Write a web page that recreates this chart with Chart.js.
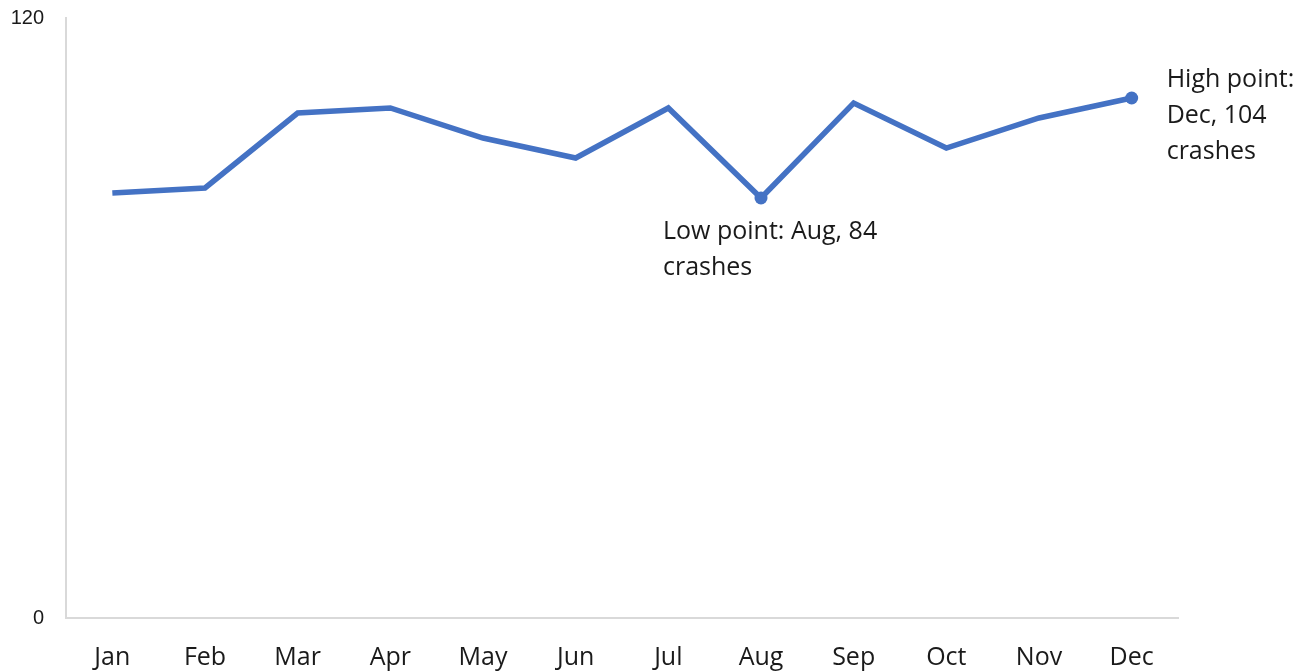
<!DOCTYPE html>
<html>
<head>
<meta charset="utf-8">
<script src="https://cdn.jsdelivr.net/npm/chart.js@4/dist/chart.umd.min.js"></script>
<style>
  html, body { margin: 0; padding: 0; background: #fff; }
  #wrap { width: 1310px; height: 672px; position: relative; }
</style>
</head>
<body>
<div id="wrap"><canvas id="c"></canvas></div>
<script>
const categories = ['Jan','Feb','Mar','Apr','May','Jun','Jul','Aug','Sep','Oct','Nov','Dec'];
const crashes = [85, 86, 101, 102, 96, 92, 102, 84, 103, 94, 100, 104];
const yTicks = [0, 120];
const lowLabel = ['Low point: Aug, 84', 'crashes'];
const highLabel = ['High point:', 'Dec, 104', 'crashes'];
const lowIndex = 7;
const highIndex = 11;

const pointRadii = crashes.map((v, i) => (i === lowIndex || i === highIndex) ? 6.5 : 0);

const annotationPlugin = {
  id: 'notes',
  afterDatasetsDraw(chart) {
    const ctx = chart.ctx;
    const x = chart.scales.x, y = chart.scales.y;
    ctx.save();
    ctx.fillStyle = '#1a1a1a';
    ctx.font = '25px "Open Sans"';
    ctx.textAlign = 'left';
    ctx.textBaseline = 'middle';
    const lh = 36;
    const lx = x.getPixelForValue(lowIndex) - 98;
    const ly = y.getPixelForValue(crashes[lowIndex]) + 34;
    lowLabel.forEach((t, i) => ctx.fillText(t, lx, ly + i * lh));
    const hx = x.getPixelForValue(highIndex) + 35;
    const hy = y.getPixelForValue(crashes[highIndex]) - 18;
    highLabel.forEach((t, i) => ctx.fillText(t, hx, hy + i * lh));
    ctx.restore();
  }
};

new Chart(document.getElementById('c'), {
  type: 'line',
  data: {
    labels: categories,
    datasets: [{
      data: crashes,
      borderColor: '#4472C4',
      backgroundColor: '#4472C4',
      borderWidth: 5.5,
      pointRadius: pointRadii,
      pointHoverRadius: pointRadii,
      pointBorderWidth: 0,
      tension: 0,
      fill: false,
      clip: false
    }]
  },
  options: {
    responsive: true,
    maintainAspectRatio: false,
    animation: false,
    layout: { padding: { top: 18, right: 132, left: 0, bottom: 0 } },
    plugins: { legend: { display: false }, tooltip: { enabled: false } },
    scales: {
      x: {
        offset: true,
        grid: { display: false, drawTicks: false },
        border: { display: true, color: '#d9d9d9', width: 2 },
        ticks: { color: '#1a1a1a', font: { family: 'Open Sans', size: 25 }, padding: 25, maxRotation: 0 },
        afterFit(s) { s.height = 54; s.paddingLeft = 0; s.paddingRight = 0; }
      },
      y: {
        min: 0, max: 120,
        grid: { display: false, drawTicks: false },
        border: { display: true, color: '#d9d9d9', width: 2 },
        afterBuildTicks(s) { s.ticks = yTicks.map(v => ({ value: v })); },
        ticks: { color: '#1a1a1a', font: { family: 'Liberation Sans', size: 20 }, padding: 22 },
        afterFit(s) { s.width = 66; s.paddingTop = 0; s.paddingBottom = 0; }
      }
    }
  },
  plugins: [annotationPlugin]
});
</script>
</body>
</html>
